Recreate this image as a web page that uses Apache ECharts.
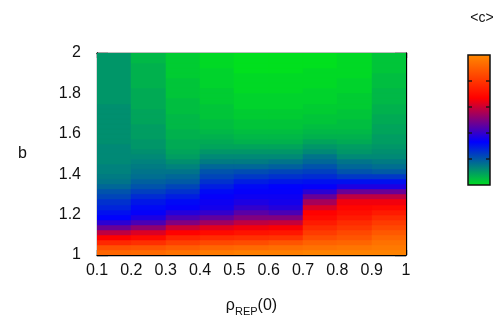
<!DOCTYPE html>
<html>
<head>
<meta charset="utf-8">
<script src="https://cdn.jsdelivr.net/npm/echarts@6/dist/echarts.min.js"></script>
<style>
html,body{margin:0;padding:0;background:#fff;}
#chart{width:501px;height:322px;}
</style>
</head>
<body>
<div id="chart"></div>
<script>
// x categories: column edges of rho_REP(0)
const xEdges = [0.1, 0.2, 0.3, 0.4, 0.5, 0.6, 0.7, 0.8, 0.9, 1.0];
// b rows: lower edge of first row and row height
const bStart = 1.0;
const bStep = 0.025;
const xTickLabels = ['0.1','0.2','0.3','0.4','0.5','0.6','0.7','0.8','0.9','1'];
const yTickLabels = ['1','1.2','1.4','1.6','1.8','2'];
// <c> values per column, ordered from b = 1.0 upward (40 rows)
const col01 = [0.91,0.86,0.76,0.67,0.58,0.47,0.39,0.33,0.31,0.28,0.26,0.23,0.21,0.18,0.16,0.15,0.14,0.14,0.13,0.13,
               0.13,0.13,0.12,0.12,0.12,0.12,0.12,0.12,0.12,0.12,0.11,0.11,0.11,0.11,0.11,0.11,0.11,0.11,0.11,0.11];
const col02 = [0.92,0.87,0.78,0.69,0.62,0.52,0.43,0.37,0.34,0.32,0.30,0.27,0.24,0.21,0.19,0.17,0.16,0.15,0.14,0.13,
               0.12,0.11,0.11,0.10,0.10,0.10,0.09,0.09,0.09,0.08,0.08,0.08,0.08,0.07,0.07,0.07,0.07,0.07,0.06,0.06];
const col03 = [0.94,0.89,0.82,0.75,0.67,0.60,0.50,0.43,0.38,0.34,0.32,0.29,0.26,0.23,0.20,0.18,0.16,0.14,0.12,0.10,
               0.09,0.08,0.08,0.07,0.07,0.06,0.06,0.06,0.05,0.05,0.05,0.04,0.04,0.04,0.04,0.03,0.03,0.03,0.03,0.03];
const col04 = [0.96,0.91,0.84,0.77,0.69,0.63,0.54,0.46,0.40,0.36,0.35,0.34,0.32,0.29,0.26,0.23,0.21,0.18,0.15,0.13,
               0.11,0.09,0.08,0.07,0.06,0.05,0.05,0.04,0.04,0.04,0.03,0.03,0.03,0.02,0.02,0.02,0.02,0.01,0.01,0.01];
const col05 = [0.97,0.92,0.85,0.78,0.71,0.65,0.58,0.50,0.45,0.40,0.37,0.35,0.34,0.32,0.29,0.25,0.22,0.18,0.15,0.13,
               0.11,0.09,0.07,0.06,0.05,0.04,0.04,0.03,0.03,0.02,0.02,0.02,0.01,0.01,0.01,0.01,0.00,0.00,0.00,0.00];
const col06 = [0.97,0.93,0.87,0.79,0.72,0.66,0.59,0.50,0.43,0.38,0.36,0.35,0.34,0.33,0.30,0.26,0.23,0.19,0.16,0.13,
               0.11,0.09,0.07,0.06,0.05,0.04,0.04,0.03,0.03,0.02,0.02,0.02,0.01,0.01,0.01,0.01,0.00,0.00,0.00,0.00];
const col07 = [0.98,0.94,0.90,0.85,0.81,0.77,0.73,0.69,0.67,0.62,0.55,0.47,0.39,0.34,0.31,0.27,0.24,0.21,0.18,0.16,
               0.13,0.11,0.09,0.07,0.06,0.05,0.04,0.04,0.03,0.03,0.02,0.02,0.02,0.01,0.01,0.01,0.01,0.00,0.00,0.00];
const col08 = [0.98,0.95,0.91,0.87,0.84,0.80,0.77,0.73,0.70,0.68,0.65,0.58,0.47,0.37,0.31,0.25,0.21,0.18,0.16,0.13,
               0.11,0.10,0.08,0.07,0.06,0.05,0.05,0.04,0.04,0.03,0.03,0.03,0.02,0.02,0.02,0.01,0.01,0.01,0.01,0.01];
const col09 = [0.98,0.96,0.94,0.91,0.88,0.84,0.81,0.77,0.73,0.69,0.65,0.58,0.47,0.37,0.31,0.25,0.20,0.17,0.15,0.13,
               0.12,0.11,0.10,0.10,0.09,0.09,0.08,0.08,0.07,0.07,0.06,0.06,0.06,0.05,0.05,0.05,0.04,0.04,0.04,0.04];
const columns = [col01, col02, col03, col04, col05, col06, col07, col08, col09];
const palette = ['#00e01e', '#0000ff', '#ff0000', '#ff8a00'];

const cells = [];
columns.forEach((col, ci) => {
  col.forEach((v, ri) => {
    const y0 = bStart + ri * bStep;
    cells.push([xEdges[ci], xEdges[ci + 1], y0, y0 + bStep, v]);
  });
});

const chart = echarts.init(document.getElementById('chart'), null, {renderer: 'canvas'});
const font = 'Liberation Sans, Arial, Helvetica, sans-serif';
const txt = '#111';

function xLab(v) { const i = Math.round((v - 0.1) / 0.1); return xTickLabels[i] !== undefined ? xTickLabels[i] : ''; }
function yLab(v) { const i = Math.round((v - 1) / 0.2); return yTickLabels[i] !== undefined ? yTickLabels[i] : ''; }

const axisLine = {show: true, lineStyle: {color: '#000', width: 1.3}};
const lx = 468, ly = 55, lw = 22, lh = 130;
const cbTicks = [];
for (let k = 1; k < 5; k++) {
  const yy = ly + lh * k / 5;
  cbTicks.push({type: 'line', shape: {x1: lx, y1: yy, x2: lx + 4, y2: yy}, style: {stroke: '#111', lineWidth: 1.3}, z: 101});
  cbTicks.push({type: 'line', shape: {x1: lx + lw - 4, y1: yy, x2: lx + lw, y2: yy}, style: {stroke: '#111', lineWidth: 1.3}, z: 101});
}

chart.setOption({
  backgroundColor: '#fff',
  animation: false,
  grid: {left: 97, top: 53, right: 95, bottom: 66, containLabel: false},
  xAxis: [
    {type: 'value', min: 0.1, max: 1.0, interval: 0.1, position: 'bottom',
     axisLine: axisLine, splitLine: {show: false},
     axisTick: {inside: true, length: 5, lineStyle: {color: '#000', width: 1.3}},
     axisLabel: {formatter: xLab, color: txt, fontSize: 16, fontFamily: font, margin: 8},
     name: '{a|ρ}{s|REP}{a|(0)}', nameLocation: 'middle', nameGap: 40,
     nameTextStyle: {rich: {
       a: {fontSize: 16, fontFamily: font, color: txt, lineHeight: 22, verticalAlign: 'middle'},
       s: {fontSize: 11, fontFamily: font, color: txt, lineHeight: 11, verticalAlign: 'bottom'}
     }}},
    {type: 'value', min: 0.1, max: 1.0, interval: 0.1, position: 'top',
     axisLine: axisLine, splitLine: {show: false},
     axisTick: {inside: true, length: 5, lineStyle: {color: '#000', width: 1.3}},
     axisLabel: {show: false}}
  ],
  yAxis: [
    {type: 'value', min: 1, max: 2, interval: 0.2, position: 'left',
     axisLine: axisLine, splitLine: {show: false},
     axisTick: {inside: true, length: 11, lineStyle: {color: '#000', width: 1.3}},
     axisLabel: {formatter: yLab, color: txt, fontSize: 16, fontFamily: font, margin: 16},
     name: 'b', nameLocation: 'middle', nameRotate: 0, nameGap: 70,
     nameTextStyle: {color: txt, fontSize: 16, fontFamily: font}},
    {type: 'value', min: 1, max: 2, interval: 0.2, position: 'right',
     axisLine: axisLine, splitLine: {show: false},
     axisTick: {inside: true, length: 11, lineStyle: {color: '#000', width: 1.3}},
     axisLabel: {show: false}}
  ],
  visualMap: {
    show: false, type: 'continuous', min: 0, max: 1, dimension: 4, seriesIndex: 0,
    inRange: {color: palette}
  },
  series: [{
    type: 'custom',
    xAxisIndex: 0, yAxisIndex: 0,
    encode: {x: [0, 1], y: [2, 3]},
    data: cells,
    z: 1,
    renderItem: function (params, api) {
      const p0 = api.coord([api.value(0), api.value(3)]);
      const p1 = api.coord([api.value(1), api.value(2)]);
      const x0 = Math.round(p0[0]), y0 = Math.round(p0[1]);
      const x1 = Math.round(p1[0]), y1 = Math.round(p1[1]);
      return {
        type: 'rect',
        shape: {x: x0, y: y0, width: x1 - x0, height: y1 - y0},
        style: {fill: api.visual('color'), stroke: api.visual('color'), lineWidth: 0.5}
      };
    },
    clip: true
  }],
  graphic: [
    {type: 'rect', shape: {x: lx, y: ly, width: lw, height: lh}, z: 100,
     style: {fill: new echarts.graphic.LinearGradient(0, 0, 0, 1, [
       {offset: 0, color: palette[3]}, {offset: 1/3, color: palette[2]},
       {offset: 2/3, color: palette[1]}, {offset: 1, color: palette[0]}]),
       stroke: '#111', lineWidth: 1.5}},
    ...cbTicks,
    {type: 'text', x: 482, y: 18, z: 100,
     style: {text: '<c>', fill: txt, fontSize: 14, fontFamily: font, align: 'center', verticalAlign: 'middle'}}
  ]
});
</script>
</body>
</html>
